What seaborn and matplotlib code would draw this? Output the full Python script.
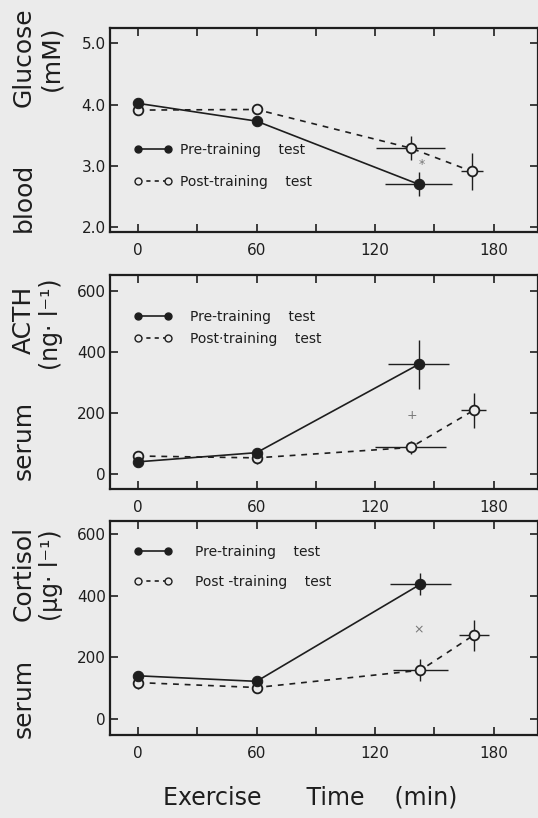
import numpy as np
import pandas as pd
import matplotlib
matplotlib.use("Agg")
import matplotlib.pyplot as plt
import seaborn as sns
from matplotlib.lines import Line2D

sns.set_style("ticks")
plt.rcParams['font.family'] = ['DejaVu Sans']

BG = '#ebebeb'
INK = '#1e1e1e'

# ---------------- data ----------------
x_ticks = [0, 60, 120, 180]

# Blood glucose (mM)
glu_pre_t = [0, 60, 142]
glu_pre = [4.02, 3.73, 2.70]
glu_pre_xerr = [0, 0, 17]
glu_pre_yerr = [0, 0, 0.20]
glu_post_t = [0, 60, 138, 169]
glu_post = [3.91, 3.92, 3.29, 2.91]
glu_post_xerr = [0, 0, 17.5, 5.5]
glu_post_yerr = [0, 0, 0.19, 0.30]
glu_ticks = [2.0, 3.0, 4.0, 5.0]
glu_ticklabels = ["2.0", "3.0", "4.0", "5.0"]

# Serum ACTH (ng/l)
acth_pre_t = [0, 60, 142]
acth_pre = [40, 70, 359]
acth_pre_xerr = [0, 0, 15.5]
acth_pre_yerr = [12, 12, 80]
acth_post_t = [0, 60, 138, 170]
acth_post = [59, 53, 87, 209]
acth_post_xerr = [0, 0, 18, 6.3]
acth_post_yerr = [12, 20, 20, 57]

# Serum cortisol (ug/l)
cor_pre_t = [0, 60, 143]
cor_pre = [140, 122, 437]
cor_pre_xerr = [0, 0, 15.2]
cor_pre_yerr = [15, 12, 35]
cor_post_t = [0, 60, 143, 170]
cor_post = [118, 102, 158, 272]
cor_post_xerr = [0, 0, 14, 7.5]
cor_post_yerr = [20, 15, 35, 50]
serum_ticks = [0, 200, 400, 600]

# ---------------- figure ----------------
W, H = 538, 818
fig = plt.figure(figsize=(W / 100, H / 100), dpi=100, facecolor=BG)


def px_axes(top, bottom, left=110, right=538):
    return fig.add_axes([left / W, 1 - bottom / H, (right - left) / W, (bottom - top) / H])


axes = [px_axes(28, 232), px_axes(275, 489), px_axes(521, 735)]

panels = [
    dict(pre=(glu_pre_t, glu_pre, glu_pre_xerr, glu_pre_yerr),
         post=(glu_post_t, glu_post, glu_post_xerr, glu_post_yerr),
         ylim=(1.92, 5.25), yt=glu_ticks, ytl=glu_ticklabels,
         leg=dict(y=0.3235, pad=0.54, spacing=1.3,
                  labels=["Pre-training    test", "Post-training    test"]),
         mark=("*", 143.6, 3.02)),
    dict(pre=(acth_pre_t, acth_pre, acth_pre_xerr, acth_pre_yerr),
         post=(acth_post_t, acth_post, acth_post_xerr, acth_post_yerr),
         ylim=(-49, 652), yt=serum_ticks, ytl=[str(v) for v in serum_ticks],
         leg=dict(y=0.752, pad=1.26, spacing=0.6,
                  labels=["Pre-training    test", "Post·training    test"]),
         mark=("+", 138.6, 193)),
    dict(pre=(cor_pre_t, cor_pre, cor_pre_xerr, cor_pre_yerr),
         post=(cor_post_t, cor_post, cor_post_xerr, cor_post_yerr),
         ylim=(-52, 642), yt=serum_ticks, ytl=[str(v) for v in serum_ticks],
         leg=dict(y=0.784, pad=1.6, spacing=1.15,
                  labels=["Pre-training    test", "Post -training    test"]),
         mark=("×", 141.9, 290)),
]

for ax, p in zip(axes, panels):
    ax.set_facecolor(BG)
    t, v, xe, ye = p['pre']
    dpre = pd.DataFrame({'time': t, 'value': v})
    t2, v2, xe2, ye2 = p['post']
    dpost = pd.DataFrame({'time': t2, 'value': v2})

    ax.errorbar(t, v, xerr=xe, yerr=ye, fmt='none', ecolor=INK, elinewidth=1.0, capsize=0, zorder=2)
    ax.errorbar(t2, v2, xerr=xe2, yerr=ye2, fmt='none', ecolor=INK, elinewidth=1.0, capsize=0, zorder=2)

    sns.lineplot(data=dpost, x='time', y='value', ax=ax, color=INK, lw=1.2,
                 linestyle=(0, (3.5, 3.5)), marker='o', markersize=7,
                 markerfacecolor=BG, markeredgecolor=INK, markeredgewidth=1.3,
                 errorbar=None, zorder=3)
    sns.lineplot(data=dpre, x='time', y='value', ax=ax, color=INK, lw=1.2,
                 marker='o', markersize=7.5, markerfacecolor=INK,
                 markeredgecolor=INK, errorbar=None, zorder=4)

    sym, mx, my = p['mark']
    ax.text(mx, my, sym, color='#777777', fontsize=9, ha='center', va='center')

    ax.set_xlim(-14.2, 202.5)
    ax.set_ylim(*p['ylim'])
    ax.set_xticks(x_ticks)
    ax.set_xticklabels([str(x) for x in x_ticks])
    ax.set_xticks([30, 90, 150], minor=True)
    ax.set_yticks(p['yt'])
    ax.set_yticklabels(p['ytl'])
    ax.set_xlabel('')
    ax.set_ylabel('')
    ax.tick_params(which='both', direction='in', top=True, right=True,
                   length=6, width=1.2, color=INK, labelcolor=INK, labelsize=11)
    ax.tick_params(axis='x', pad=8)
    ax.tick_params(axis='y', pad=3)
    for s in ax.spines.values():
        s.set_linewidth(1.6)
        s.set_color(INK)

    lg = p['leg']
    handles = [
        Line2D([], [], color=INK, lw=1.2, marker='o', markersize=5,
               markerfacecolor=INK, markeredgecolor=INK),
        Line2D([], [], color=INK, lw=1.2, linestyle=(0, (2.5, 2.5)), marker='o',
               markersize=5, markerfacecolor=BG, markeredgecolor=INK),
    ]
    ax.legend(handles, lg['labels'], loc='center left',
              bbox_to_anchor=(0.055, lg['y']), borderaxespad=0, borderpad=0,
              frameon=False, numpoints=2, handlelength=2.81,
              handletextpad=lg['pad'], labelspacing=lg['spacing'],
              fontsize=10, labelcolor=INK)


def ftext(x, y, s, size, rot=90):
    fig.text(x / W, 1 - y / H, s, rotation=rot, ha='center', va='center',
             fontsize=size, color=INK)


ftext(24, 197, "blood", 18)
ftext(24, 57, "Glucose", 18)
ftext(51, 58, "(mM)", 18)
ftext(24, 440, "serum", 18)
ftext(24, 320, "ACTH", 18)
ftext(51, 324, "(ng· l⁻¹)", 17)
ftext(24, 698, "serum", 18)
ftext(24, 573, "Cortisol", 18)
ftext(51, 575, "(µg· l⁻¹)", 17)
ftext(310, 798, "Exercise      Time    (min)", 17, rot=0)

fig.savefig("out.png", dpi=100, facecolor=BG)
